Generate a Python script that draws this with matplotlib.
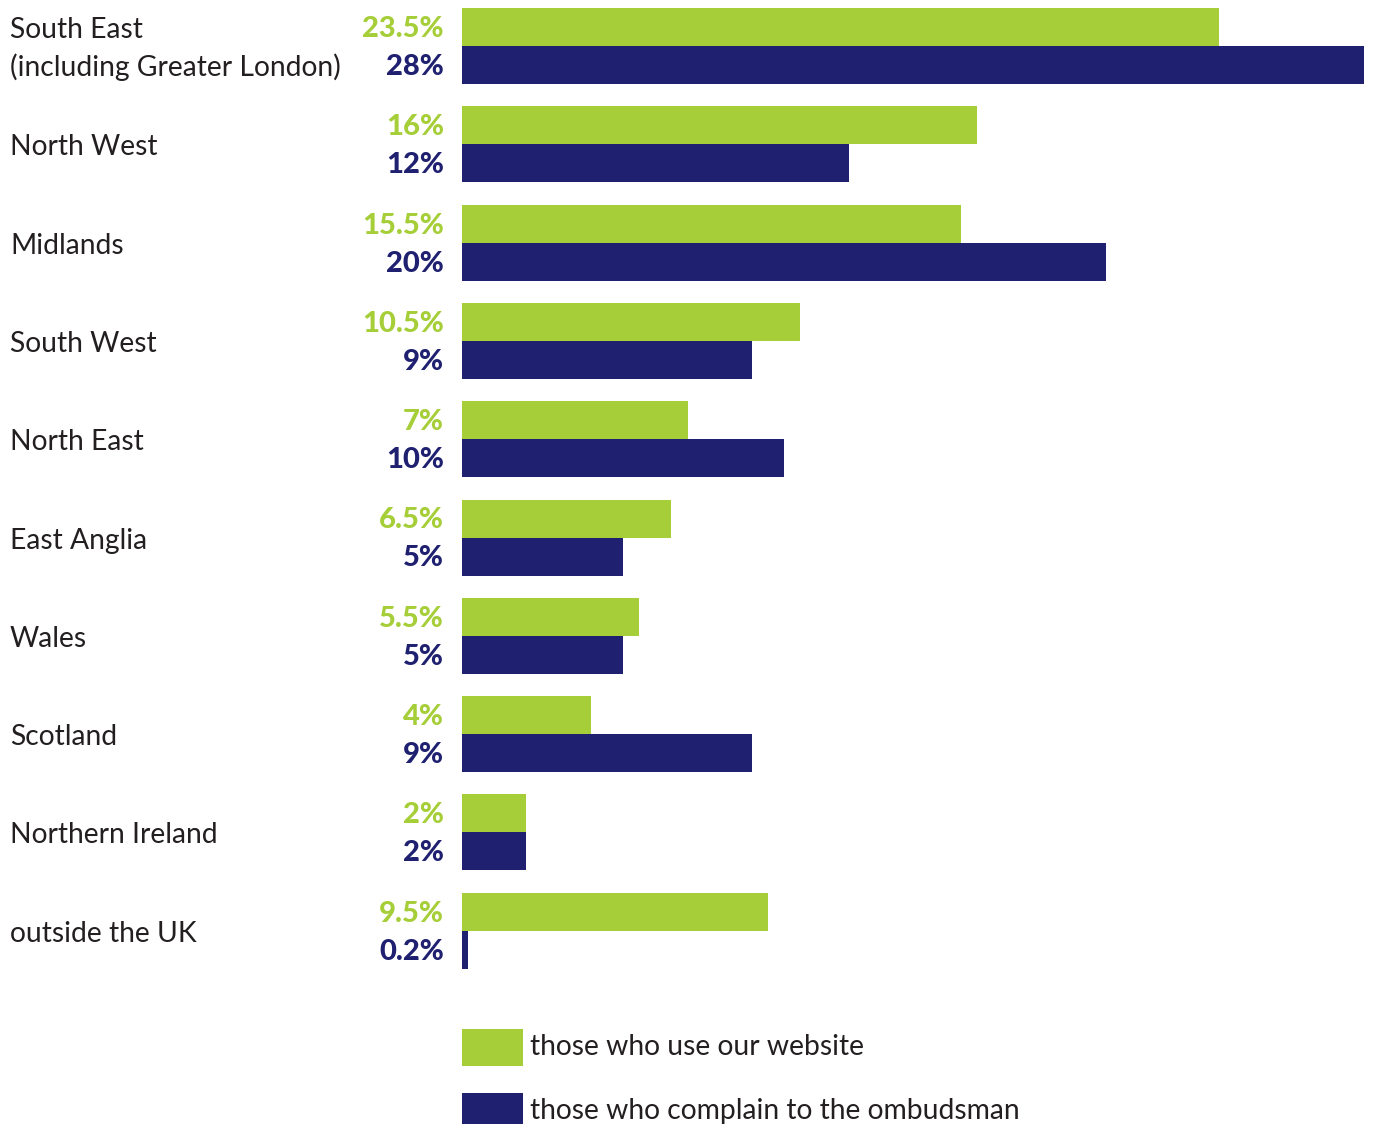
import matplotlib
matplotlib.use("Agg")
import matplotlib.pyplot as plt
from matplotlib.patches import Rectangle
import numpy as np

plt.rcParams['font.family'] = ['Lato', 'DejaVu Sans']

regions = ["South East\n(including Greater London)", "North West", "Midlands",
           "South West", "North East", "East Anglia", "Wales", "Scotland",
           "Northern Ireland", "outside the UK"]
website = [23.5, 16, 15.5, 10.5, 7, 6.5, 5.5, 4, 2, 9.5]
complain = [28, 12, 20, 9, 10, 5, 5, 9, 2, 0.2]
website_labels = ["23.5%", "16%", "15.5%", "10.5%", "7%", "6.5%", "5.5%", "4%", "2%", "9.5%"]
complain_labels = ["28%", "12%", "20%", "9%", "10%", "5%", "5%", "9%", "2%", "0.2%"]
legend_labels = ["those who use our website", "those who complain to the ombudsman"]

GREEN = "#A6CE39"
NAVY = "#1F2070"
TEXT = "#231F20"

W, H = 1373, 1124
fig = plt.figure(figsize=(W / 100, H / 100), dpi=100)

# axes placed in pixel terms: bars start at x=462, 28% reaches x=1364
step = 98.3
bh = 38 / step
ax = fig.add_axes([462 / W, (H - 980) / H, 902 / W, 980 / H])
ax.set_xlim(0, 28)
ax.set_ylim((980 - 46) / step, -46 / step)
ax.axis("off")

y = np.arange(len(regions))
ax.barh(y - bh / 2, website, height=bh, color=GREEN, linewidth=0)
ax.barh(y + bh / 2, complain, height=bh, color=NAVY, linewidth=0)

for i in range(len(regions)):
    ax.annotate(website_labels[i], (0, y[i] - bh / 2), xytext=(-18, -2),
                textcoords="offset pixels", ha="right", va="center",
                fontsize=21, fontweight="black", color=GREEN)
    ax.annotate(complain_labels[i], (0, y[i] + bh / 2), xytext=(-18, -2),
                textcoords="offset pixels", ha="right", va="center",
                fontsize=21, fontweight="black", color=NAVY)
    ax.annotate(regions[i], (0, y[i]), xycoords=("figure pixels", "data"),
                xytext=(10, -3), textcoords="offset pixels", ha="left",
                va="center", fontsize=20.3, color=TEXT, linespacing=1.45)

# legend
for k, (col, lab) in enumerate(zip([GREEN, NAVY], legend_labels)):
    top = 1029 + 64 * k
    fig.add_artist(Rectangle((462 / W, (H - top - 37) / H), 61 / W, 37 / H,
                             transform=fig.transFigure, color=col, lw=0))
    fig.text(530 / W, (H - top - 18) / H, lab, ha="left", va="center",
             fontsize=20.3, color=TEXT)

fig.savefig("out.png", dpi=100)
